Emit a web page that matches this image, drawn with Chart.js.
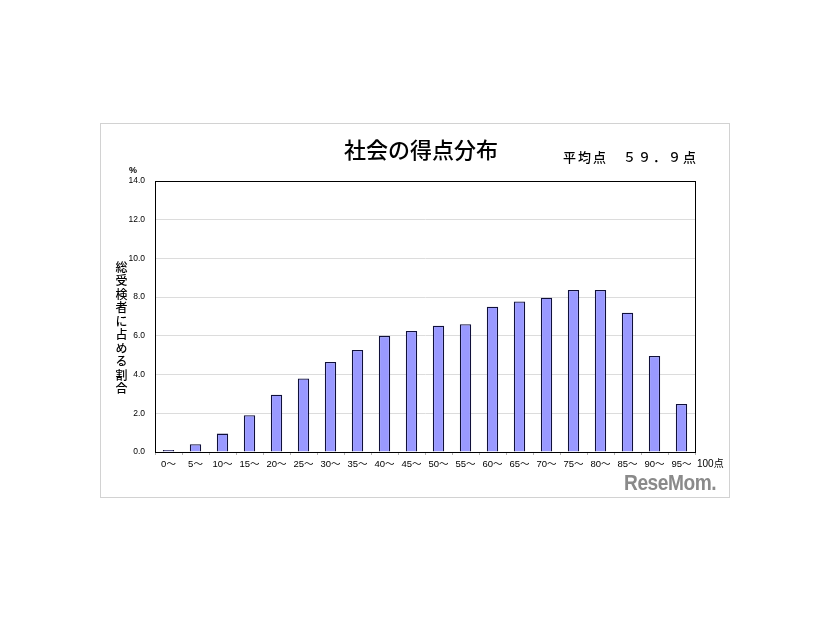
<!DOCTYPE html>
<html>
<head>
<meta charset="utf-8">
<script src="https://cdn.jsdelivr.net/npm/chart.js@4/dist/chart.umd.min.js"></script>
<style>
  html, body { margin: 0; padding: 0; background: #fff; }
  #wrap { position: relative; width: 826px; height: 620px; overflow: hidden; }
  #frame { position: absolute; left: 100px; top: 123px; width: 628px; height: 373px; border: 1px solid #d2d2d2; }
  canvas { position: absolute; left: 0; top: 0; }
  .txt { position: absolute; white-space: nowrap; color: #000; }
  #title { left: 300px; width: 242px; top: 133px; text-align: center; font: 500 22px "Noto Sans CJK JP", sans-serif; line-height: 30px; }
  #avg { left: 563px; top: 148px; font: 500 13px "Noto Sans CJK JP", sans-serif; letter-spacing: 2px; line-height: 18px; }
  #pct { left: 129px; top: 165px; font: bold 9px "Liberation Sans", sans-serif; line-height: 10px; }
  #ytitle { left: 114px; top: 261px; writing-mode: vertical-rl; text-orientation: upright; font: 500 12px "Noto Sans CJK JP", sans-serif; letter-spacing: 1.5px; line-height: 14px; }
  #logo { left: 624px; top: 470px; font: bold 22px "Liberation Sans Narrow", "Liberation Sans", sans-serif; color: #8a8a8a; letter-spacing: -0.5px; line-height: 26px; transform-origin: 0 0; transform: scaleX(0.87); }
</style>
</head>
<body>
<div id="wrap">
  <div id="frame"></div>
  <canvas id="c" width="826" height="620"></canvas>
  <div class="txt" id="title">社会の得点分布</div>
  <div class="txt" id="avg">平均点　５９．９点</div>
  <div class="txt" id="pct">%</div>
  <div class="txt" id="ytitle">総受検者に占める割合</div>
  <div class="txt" id="logo">ReseMom.</div>
</div>
<script>
const categories = ["0～","5～","10～","15～","20～","25～","30～","35～","40～","45～","50～","55～","60～","65～","70～","75～","80～","85～","90～","95～"];
const shares = [0.1, 0.4, 0.95, 1.9, 2.96, 3.8, 4.65, 5.27, 6.0, 6.25, 6.52, 6.6, 7.5, 7.78, 7.97, 8.37, 8.37, 7.2, 4.96, 2.48];
const yTicks = [0, 2, 4, 6, 8, 10, 12, 14];
const endLabel = "100点";

const framePlugin = {
  id: 'framePlugin',
  afterDraw(chart) {
    const ctx = chart.ctx, a = chart.chartArea;
    ctx.save();
    ctx.strokeStyle = '#000';
    ctx.lineWidth = 1;
    ctx.strokeRect(Math.round(a.left) + 0.5, Math.round(a.top) + 0.5, Math.round(a.right - a.left), Math.round(a.bottom - a.top));
    ctx.fillStyle = '#000';
    ctx.font = '10px "Liberation Sans", "Noto Sans CJK JP", sans-serif';
    ctx.textAlign = 'left';
    ctx.textBaseline = 'middle';
    ctx.fillText(endLabel, a.right + 2, a.bottom + 12);
    ctx.restore();
  }
};

new Chart(document.getElementById('c'), {
  type: 'bar',
  data: {
    labels: categories,
    datasets: [{
      data: shares,
      backgroundColor: '#9999ff',
      borderColor: '#10103a',
      borderWidth: 1.3,
      borderSkipped: 'bottom',
      barPercentage: 0.42,
      categoryPercentage: 1.0
    }]
  },
  options: {
    responsive: false,
    animation: false,
    devicePixelRatio: 1,
    layout: { padding: { left: 125, top: 181, right: 131, bottom: 138 } },
    plugins: { legend: { display: false }, tooltip: { enabled: false }, title: { display: false } },
    scales: {
      y: {
        min: 0, max: 14,
        afterBuildTicks(scale) { scale.ticks = yTicks.map(v => ({ value: v })); },
        afterFit(scale) { scale.width = 30; },
        ticks: {
          padding: 10,
          color: '#000',
          font: { family: '"Liberation Sans", sans-serif', size: 8.5 },
          callback: v => Number(v).toFixed(1)
        },
        grid: {
          drawTicks: false,
          color: ctx => (ctx.tick && (ctx.tick.value === 0 || ctx.tick.value === 14)) ? 'rgba(0,0,0,0)' : '#dcdcdc',
          lineWidth: 1
        },
        border: { display: true, color: '#000', width: 1 }
      },
      x: {
        afterFit(scale) { scale.height = 30; },
        ticks: {
          padding: 4,
          color: '#000',
          maxRotation: 0,
          autoSkip: false,
          font: { family: '"Liberation Sans", "Noto Sans CJK JP", sans-serif', size: 9.5 }
        },
        grid: {
          offset: true,
          drawOnChartArea: false,
          drawTicks: true,
          tickLength: 3,
          color: '#b0b0b0'
        },
        border: { display: true, color: '#000', width: 1 }
      }
    }
  },
  plugins: [framePlugin]
});
</script>
</body>
</html>
